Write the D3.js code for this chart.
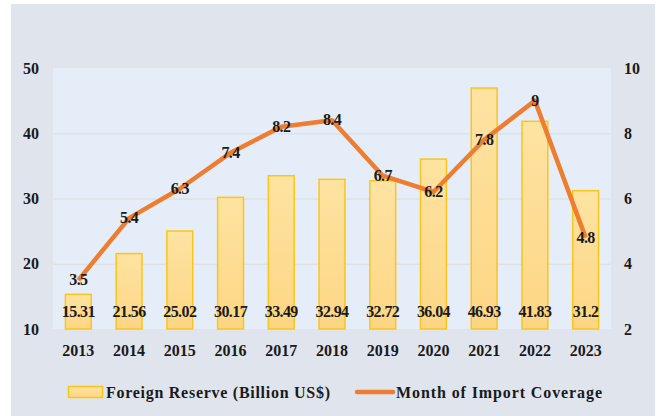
<!DOCTYPE html>
<html>
<head>
<meta charset="utf-8">
<script src="https://cdn.jsdelivr.net/npm/d3@7"></script>
<style>
body { margin:0; background:#fff; }
text { font-family:"Liberation Serif","Times New Roman",serif; font-weight:bold; fill:#1a1a1a; }
</style>
</head>
<body>
<div id="chart"></div>
<script>
const years = ['2013','2014','2015','2016','2017','2018','2019','2020','2021','2022','2023']
const reserve = [15.31,21.56,25.02,30.17,33.49,32.94,32.72,36.04,46.93,41.83,31.2]
const coverage = [3.5,5.4,6.3,7.4,8.2,8.4,6.7,6.2,7.8,9,4.8]
const leftTicks = [10,20,30,40,50]
const rightTicks = [2,4,6,8,10]

const width = 657
const height = 416
const margin = { top:68, bottom:87, left:53, right:46 }
const innerWidth = width - margin.left - margin.right
const innerHeight = height - margin.top - margin.bottom

const svg = d3.select('#chart').append('svg')
  .attr('width', width).attr('height', height)

const defs = svg.append('defs')
const grad = defs.append('linearGradient').attr('id','barFill')
  .attr('x1',0).attr('y1',0).attr('x2',0).attr('y2',1)
grad.append('stop').attr('offset','0%').attr('stop-color','#fee3a2')
grad.append('stop').attr('offset','100%').attr('stop-color','#fdd684')

// outer panel
svg.append('rect').attr('x',11).attr('y',4).attr('width',644).attr('height',412).attr('fill','#dfe4ed')

const g = svg.append('g').attr('transform',`translate(${margin.left},${margin.top})`)
g.append('rect').attr('width',innerWidth).attr('height',innerHeight).attr('fill','#e5edf8')

const x = d3.scaleBand().domain(years).range([0,innerWidth]).paddingInner(0.49).paddingOuter(0.245)
const yL = d3.scaleLinear().domain([10,50]).range([innerHeight,0])
const yR = d3.scaleLinear().domain([2,10]).range([innerHeight,0])

// gridlines
g.append('g')
  .call(d3.axisLeft(yL).tickValues(leftTicks.slice(1,4)).tickSize(-innerWidth).tickFormat(''))
  .call(a=>a.select('.domain').remove())
  .call(a=>a.selectAll('line').attr('stroke','#dcdcdc').attr('stroke-width',1))

// axes
const leftAxis = g.append('g')
  .call(d3.axisLeft(yL).tickValues(leftTicks).tickSize(0).tickPadding(14))
leftAxis.select('.domain').remove()
leftAxis.selectAll('text').attr('font-size',16).attr('fill','#1a1a1a')

const rightAxis = g.append('g').attr('transform',`translate(${innerWidth},0)`)
  .call(d3.axisRight(yR).tickValues(rightTicks).tickSize(0).tickPadding(13))
rightAxis.select('.domain').remove()
rightAxis.selectAll('text').attr('font-size',16).attr('fill','#1a1a1a')

const xAxis = g.append('g').attr('transform',`translate(0,${innerHeight})`)
  .call(d3.axisBottom(x).tickSize(0).tickPadding(16))
xAxis.select('.domain').remove()
xAxis.selectAll('text').attr('font-size',16).attr('fill','#1a1a1a')

// bars
g.selectAll('rect.bar').data(years).enter().append('rect')
  .attr('class','bar')
  .attr('x',d=>x(d))
  .attr('y',(d,i)=>yL(reserve[i]))
  .attr('width',x.bandwidth())
  .attr('height',(d,i)=>innerHeight-yL(reserve[i]))
  .attr('fill','url(#barFill)')
  .attr('stroke','#fbc51a')
  .attr('stroke-width',1.5)

// bar labels
g.selectAll('text.bl').data(years).enter().append('text')
  .attr('class','bl')
  .attr('x',d=>x(d)+x.bandwidth()/2)
  .attr('y',innerHeight-12)
  .attr('text-anchor','middle')
  .attr('font-size',16)
  .attr('letter-spacing','-0.6')
  .text((d,i)=>reserve[i])

// line
const line = d3.line()
  .x((d,i)=>x(years[i])+x.bandwidth()/2)
  .y(d=>yR(d))
g.append('path').datum(coverage)
  .attr('d',line)
  .attr('fill','none')
  .attr('stroke','#ed7d31')
  .attr('stroke-width',4.5)
  .attr('stroke-linejoin','round')

g.selectAll('text.ll').data(coverage).enter().append('text')
  .attr('class','ll')
  .attr('x',(d,i)=>x(years[i])+x.bandwidth()/2)
  .attr('y',d=>yR(d)+5)
  .attr('text-anchor','middle')
  .attr('font-size',16)
  .attr('letter-spacing','-0.6')
  .text(d=>d)

// legend
const legend = svg.append('g').attr('transform','translate(0,392)')
legend.append('rect').attr('x',68.5).attr('y',-5.5).attr('width',34).attr('height',11)
  .attr('fill','url(#barFill)').attr('stroke','#fbc51a').attr('stroke-width',1.5)
legend.append('text').attr('x',106).attr('y',5.5).attr('font-size',16)
  .attr('textLength',224).attr('lengthAdjust','spacing')
  .text('Foreign Reserve (Billion US$)')
legend.append('line').attr('x1',357).attr('x2',393).attr('y1',0).attr('y2',0)
  .attr('stroke','#ed7d31').attr('stroke-width',4.5).attr('stroke-linecap','round')
legend.append('text').attr('x',396).attr('y',5.5).attr('font-size',16)
  .attr('textLength',206).attr('lengthAdjust','spacing')
  .text('Month of Import Coverage')
</script>
</body>
</html>
